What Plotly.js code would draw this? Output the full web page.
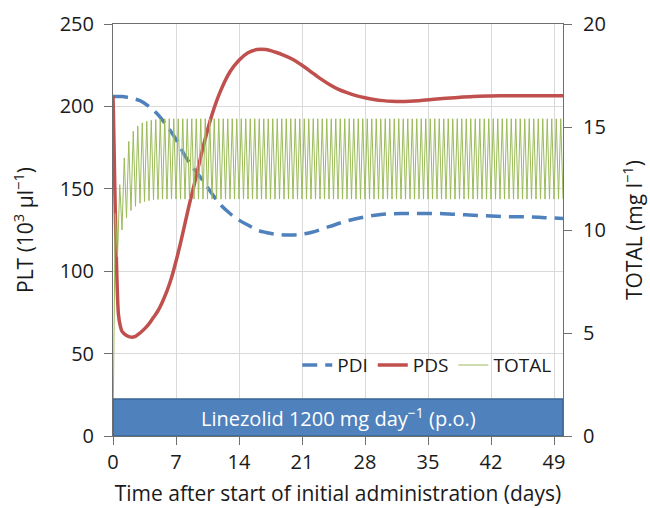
<!DOCTYPE html>
<html>
<head>
<meta charset="utf-8">
<script src="https://cdn.plot.ly/plotly-3.0.1.min.js"></script>
<style>html,body{margin:0;padding:0;background:#fff;}#chart{width:650px;height:508px;}</style>
</head>
<body>
<div id="chart"></div>
<script>
// ---- data ----
const xTicks = [0, 7, 14, 21, 28, 35, 42, 49];

const pdiDays = [0, 1, 1.6, 2, 3, 4, 5, 6, 7, 8, 9, 10, 11, 12, 13, 14, 15, 16, 17, 18, 19, 20, 21, 22, 24, 26, 28, 30, 32, 34, 36, 38, 40, 42, 44, 46, 48, 50];
const pdiValues = [206, 206, 205.5, 205, 203.5, 200, 195, 188, 180, 170, 162, 155, 147, 140, 135, 131, 128, 125, 123.5, 122.5, 122, 122, 122.5, 123.5, 127, 130.5, 133, 134.5, 135, 135, 135, 134.5, 134, 133.5, 133, 133, 132.5, 132];

const pdsDays = [0, 0.05, 0.15, 0.26, 0.35, 0.44, 0.6, 0.8, 1, 1.5, 2, 2.5, 3, 3.5, 4, 4.5, 5, 5.5, 6, 6.5, 7, 7.5, 8, 8.5, 9, 10, 11, 12, 13, 14, 15, 16, 17, 18, 19, 20, 21, 22, 23, 24, 25, 26, 27, 28, 29, 30, 31, 32, 34, 36, 38, 40, 42, 44, 46, 48, 50];
const pdsValues = [206, 195, 165, 135, 113, 95, 74, 67, 63.5, 61, 60, 60.5, 62.5, 65, 68, 72, 76, 81.5, 88, 96, 106, 117, 129, 141, 152, 175, 195, 210, 221, 228, 232.5, 234.5, 234.5, 233, 231, 228.5, 225, 221, 217, 213.5, 210.5, 208.3, 206.5, 205.2, 204.2, 203.5, 203.1, 203, 203.5, 204.5, 205.3, 206, 206.3, 206.5, 206.5, 206.5, 206.5];

// TOTAL concentration: one peak per dose (600 mg every 0.5 day) and the trough before each dose
const doseInterval = 0.5;
const totalPeaks = [
  10.8, 12.2, 13.5, 14.3, 14.8, 15.05, 15.2, 15.28, 15.33, 15.36,
  15.38, 15.4, 15.4, 15.4, 15.4, 15.4, 15.4, 15.4, 15.4, 15.4,
  15.4, 15.4, 15.4, 15.4, 15.4, 15.4, 15.4, 15.4, 15.4, 15.4,
  15.4, 15.4, 15.4, 15.4, 15.4, 15.4, 15.4, 15.4, 15.4, 15.4,
  15.4, 15.4, 15.4, 15.4, 15.4, 15.4, 15.4, 15.4, 15.4, 15.4,
  15.4, 15.4, 15.4, 15.4, 15.4, 15.4, 15.4, 15.4, 15.4, 15.4,
  15.4, 15.4, 15.4, 15.4, 15.4, 15.4, 15.4, 15.4, 15.4, 15.4,
  15.4, 15.4, 15.4, 15.4, 15.4, 15.4, 15.4, 15.4, 15.4, 15.4,
  15.4, 15.4, 15.4, 15.4, 15.4, 15.4, 15.4, 15.4, 15.4, 15.4,
  15.4, 15.4, 15.4, 15.4, 15.4, 15.4, 15.4, 15.4, 15.4, 15.4
];
const totalTroughs = [
  0, 8.7, 10.0, 10.6, 10.95, 11.15, 11.3, 11.38, 11.43, 11.46,
  11.48, 11.5, 11.5, 11.5, 11.5, 11.5, 11.5, 11.5, 11.5, 11.5,
  11.5, 11.5, 11.5, 11.5, 11.5, 11.5, 11.5, 11.5, 11.5, 11.5,
  11.5, 11.5, 11.5, 11.5, 11.5, 11.5, 11.5, 11.5, 11.5, 11.5,
  11.5, 11.5, 11.5, 11.5, 11.5, 11.5, 11.5, 11.5, 11.5, 11.5,
  11.5, 11.5, 11.5, 11.5, 11.5, 11.5, 11.5, 11.5, 11.5, 11.5,
  11.5, 11.5, 11.5, 11.5, 11.5, 11.5, 11.5, 11.5, 11.5, 11.5,
  11.5, 11.5, 11.5, 11.5, 11.5, 11.5, 11.5, 11.5, 11.5, 11.5,
  11.5, 11.5, 11.5, 11.5, 11.5, 11.5, 11.5, 11.5, 11.5, 11.5,
  11.5, 11.5, 11.5, 11.5, 11.5, 11.5, 11.5, 11.5, 11.5, 11.5,
  11.5
];

// dosing period bar
const doseStart = 0;
const doseEnd = 50;
const doseBarTop = 22.4;
const doseLabel = 'Linezolid 1200 mg day<sup>−1</sup> (p.o.)';

// ---- build TOTAL polyline from peaks / troughs ----
const totalX = [], totalY = [];
for (let k = 0; k < totalPeaks.length; k++) {
  totalX.push(k * doseInterval); totalY.push(totalTroughs[k]);
  totalX.push(k * doseInterval + doseInterval / 2); totalY.push(totalPeaks[k]);
}
totalX.push(totalPeaks.length * doseInterval); totalY.push(totalTroughs[totalPeaks.length]);

const FONT = 'Open Sans, Noto Sans, sans-serif';
const TXT = '#1a1a1a';

const traces = [
  {x: totalX, y: totalY, yaxis: 'y2', name: 'TOTAL', type: 'scatter', mode: 'lines',
   line: {color: '#9BBB59', width: 1}, legendrank: 3},
  {x: pdiDays, y: pdiValues, name: 'PDI', type: 'scatter', mode: 'lines',
   line: {color: '#4F81BD', width: 3.5, dash: '15px,8px', shape: 'spline'}, legendrank: 1},
  {x: pdsDays, y: pdsValues, name: 'PDS', type: 'scatter', mode: 'lines',
   line: {color: '#C0504D', width: 3.5, shape: 'spline', smoothing: 0.8}, legendrank: 2}
];

const axisCommon = {
  showline: true, linecolor: '#6f6f6f', linewidth: 1,
  ticks: 'outside', ticklen: 8, tickcolor: '#6f6f6f',
  tickfont: {family: FONT, size: 20, color: TXT},
  zeroline: false
};

const layout = {
  width: 650, height: 508,
  margin: {l: 113, r: 87, t: 24, b: 72},
  paper_bgcolor: '#fff', plot_bgcolor: '#fff',
  font: {family: FONT, color: TXT},
  showlegend: true,
  legend: {orientation: 'h', x: 0.985, xanchor: 'right', y: 0.172, yanchor: 'middle',
           bgcolor: 'rgba(0,0,0,0)', font: {family: FONT, size: 19, color: TXT},
           traceorder: 'normal', itemwidth: 30},
  xaxis: Object.assign({}, axisCommon, {
    range: [0, 50], tickvals: xTicks, ticktext: xTicks.map(String),
    showgrid: true, gridcolor: '#d9d9d9', gridwidth: 1, mirror: true,
    title: {text: 'Time after start of initial administration (days)', font: {family: FONT, size: 21, color: TXT}, standoff: 12}
  }),
  yaxis: Object.assign({}, axisCommon, {
    range: [0, 250], dtick: 50, showgrid: true, gridcolor: '#d9d9d9', ticklabelstandoff: 6,
    title: {text: 'PLT (10<sup>3</sup> μl<sup>−1</sup>)', font: {family: FONT, size: 21, color: TXT}, standoff: 20}
  }),
  yaxis2: Object.assign({}, axisCommon, {
    range: [0, 20], dtick: 5, overlaying: 'y', side: 'right', showgrid: false, ticklabelstandoff: 7,
    title: {text: 'TOTAL (mg l<sup>−1</sup>)', font: {family: FONT, size: 21, color: TXT}, standoff: 22}
  }),
  shapes: [
    {type: 'rect', xref: 'x', yref: 'y', x0: doseStart, x1: doseEnd, y0: 0, y1: doseBarTop,
     fillcolor: '#4F81BD', line: {color: '#3A6496', width: 1.5}, layer: 'above'}
  ],
  annotations: [
    {xref: 'x', yref: 'y', x: (doseStart + doseEnd) / 2, y: doseBarTop / 2, text: doseLabel,
     showarrow: false, font: {family: FONT, size: 20, color: '#ffffff'}}
  ]
};

Plotly.newPlot('chart', traces, layout, {displayModeBar: false, staticPlot: true});
</script>
</body>
</html>
